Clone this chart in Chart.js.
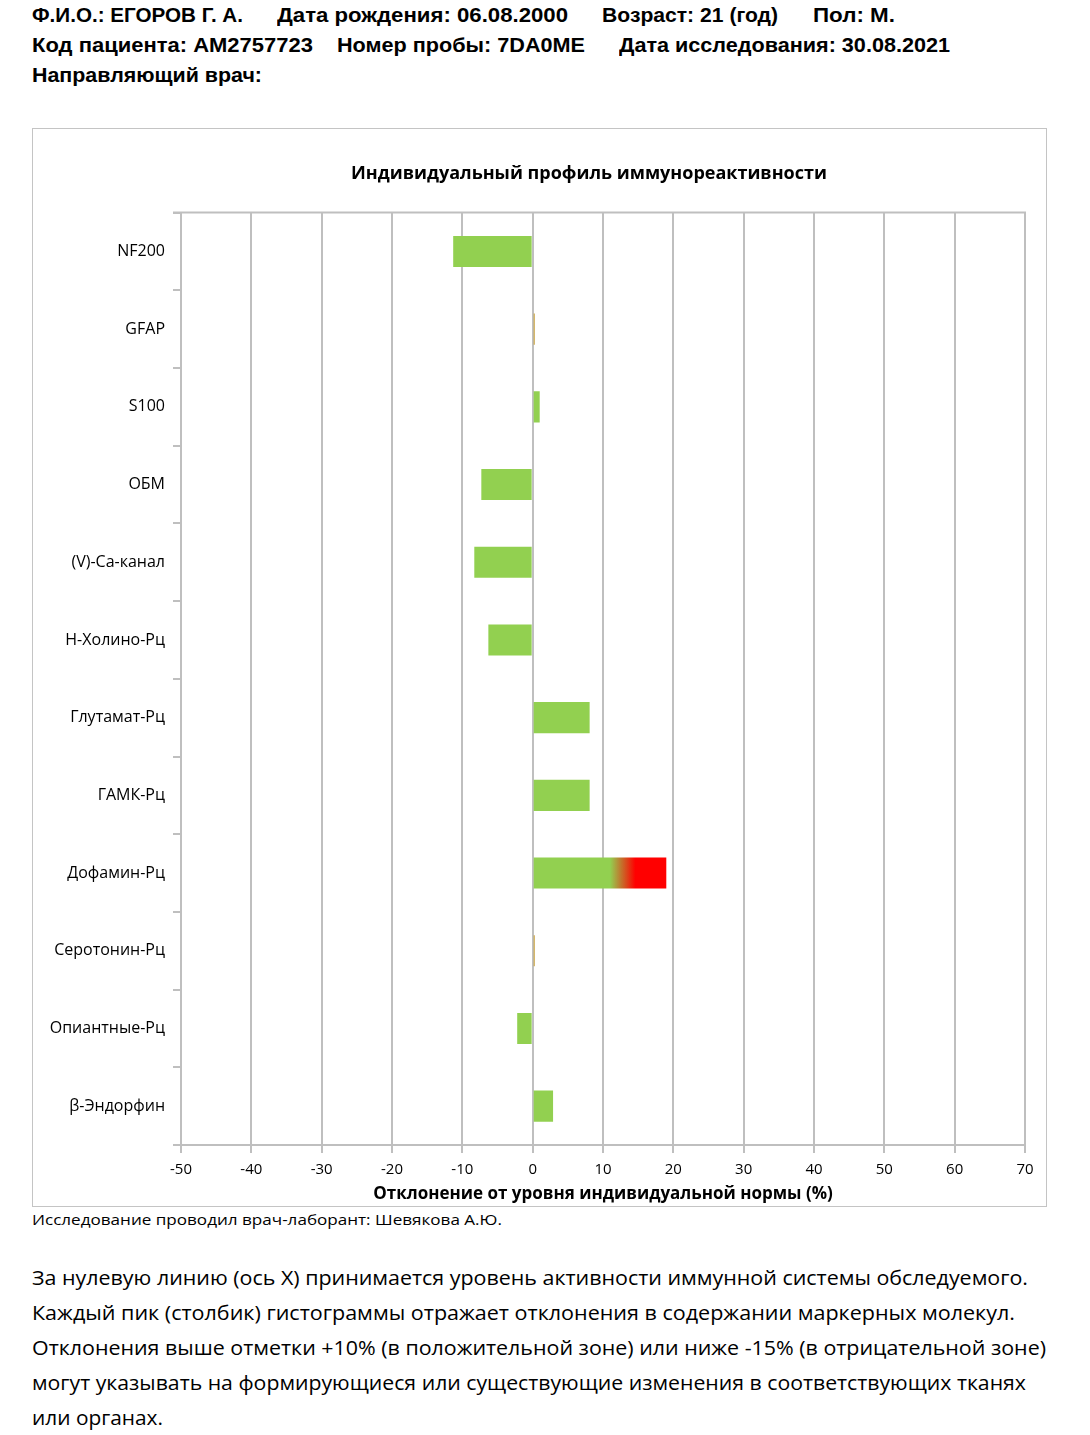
<!DOCTYPE html>
<html lang="ru">
<head>
<meta charset="utf-8">
<script src="https://cdn.jsdelivr.net/npm/chart.js@4.4.1/dist/chart.umd.min.js"></script>
<style>
  body { margin: 0; width: 1090px; height: 1435px; background: #fff; position: relative; font-family: "Open Sans", "Noto Sans", sans-serif; color: #000; }
  .t { position: absolute; white-space: nowrap; transform-origin: 0 50%; line-height: 1; }
  .head { font-family: "Liberation Sans", sans-serif; font-weight: bold; font-size: 21px; }
  .para { font-size: 20px; }
  .note { font-size: 15px; }
  #box { position: absolute; left: 32px; top: 128px; width: 1013px; height: 1077px; border: 1px solid #c4c4c4; }
</style>
</head>
<body>
<div class="t head" style="left:32px;top:4px" data-w="211">Ф.И.О.: ЕГОРОВ Г. А.</div>
<div class="t head" style="left:277px;top:4px" data-w="291">Дата рождения: 06.08.2000</div>
<div class="t head" style="left:602px;top:4px" data-w="176">Возраст: 21 (год)</div>
<div class="t head" style="left:813px;top:4px" data-w="82">Пол: М.</div>
<div class="t head" style="left:32px;top:34px" data-w="281">Код пациента: AM2757723</div>
<div class="t head" style="left:337px;top:34px" data-w="248">Номер пробы: 7DA0ME</div>
<div class="t head" style="left:619px;top:34px" data-w="331">Дата исследования: 30.08.2021</div>
<div class="t head" style="left:32px;top:64px" data-w="230">Направляющий врач:</div>

<div id="box"><canvas id="immunoChart" width="1013" height="1077"></canvas></div>

<div class="t note" style="left:32px;top:1212px" data-w="470">Исследование проводил врач-лаборант: Шевякова А.Ю.</div>

<div class="t para" style="left:32px;top:1268px" data-w="996">За нулевую линию (ось X) принимается уровень активности иммунной системы обследуемого.</div>
<div class="t para" style="left:32px;top:1303px" data-w="983">Каждый пик (столбик) гистограммы отражает отклонения в содержании маркерных молекул.</div>
<div class="t para" style="left:32px;top:1338px" data-w="1014">Отклонения выше отметки +10% (в положительной зоне) или ниже -15% (в отрицательной зоне)</div>
<div class="t para" style="left:32px;top:1373px" data-w="994">могут указывать на формирующиеся или существующие изменения в соответствующих тканях</div>
<div class="t para" style="left:32px;top:1408px" data-w="131">или органах.</div>

<script>
const markers = [
  "NF200", "GFAP", "S100", "ОБМ", "(V)-Са-канал", "Н-Холино-Рц",
  "Глутамат-Рц", "ГАМК-Рц", "Дофамин-Рц", "Серотонин-Рц", "Опиантные-Рц", "β-Эндорфин"
];
const deviations = [-11.3, 0.3, 1.0, -7.3, -8.3, -6.3, 8.1, 8.1, 19.0, 0.3, -2.2, 2.9];
const xMin = -50;
const xMax = 70;
const xStep = 10;

const GREEN = "#92d050";
const RED = "#ff0000";
const NEAR_ZERO = "#c9a23f";
const GRID = "#bfbfbf";

// stretch each text line to the width it has in the printed report
document.querySelectorAll("[data-w]").forEach((el) => {
  const target = +el.dataset.w;
  const w = el.getBoundingClientRect().width;
  if (w > 0) el.style.transform = "scaleX(" + (target / w).toFixed(4) + ")";
});

function barColor(c) {
  const v = c.raw;
  if (Math.abs(v) < 0.5) return NEAR_ZERO;
  const chart = c.chart;
  const x = chart.scales.x;
  if (!chart.chartArea || !x) return GREEN;
  // green turns to red past the +10% zone
  const g = chart.ctx.createLinearGradient(x.getPixelForValue(11), 0, x.getPixelForValue(14.6), 0);
  g.addColorStop(0, GREEN);
  g.addColorStop(1, RED);
  return g;
}

const topBorder = {
  id: "topBorder",
  afterDraw(chart) {
    const { ctx, chartArea } = chart;
    ctx.save();
    ctx.strokeStyle = GRID;
    ctx.lineWidth = 2;
    ctx.beginPath();
    ctx.moveTo(chartArea.left - 8, chartArea.top);
    ctx.lineTo(chartArea.right + 1, chartArea.top);
    ctx.stroke();
    ctx.restore();
  },
};

new Chart(document.getElementById("immunoChart"), {
  type: "bar",
  data: {
    labels: markers,
    datasets: [
      {
        label: "Отклонение",
        data: deviations,
        backgroundColor: barColor,
        categoryPercentage: 1,
        barPercentage: 0.4,
      },
    ],
  },
  options: {
    indexAxis: "y",
    responsive: false,
    animation: false,
    layout: { padding: { left: 0, right: 21, top: 0, bottom: 0 } },
    plugins: {
      legend: { display: false },
      tooltip: { enabled: false },
      title: {
        display: true,
        // trailing spaces nudge the centred title a little to the left, as in the report
        text: "Индивидуальный профиль иммунореактивности\u00a0\u00a0\u00a0\u00a0\u00a0\u00a0",
        color: "#000",
        fullSize: false,
        font: { family: "Open Sans", size: 18, weight: "bold" },
        padding: { top: 34, bottom: 28 },
      },
    },
    scales: {
      x: {
        type: "linear",
        min: xMin,
        max: xMax,
        ticks: { stepSize: xStep, color: "#000", font: { family: "Open Sans", size: 15 }, padding: 8 },
        grid: { color: GRID, lineWidth: 2, tickLength: 8 },
        border: { color: GRID, width: 2 },
        title: {
          display: true,
          text: "Отклонение от уровня индивидуальной нормы (%)",
          color: "#000",
          font: { family: "Open Sans", size: 17, weight: "bold" },
          padding: { top: 4, bottom: 2 },
        },
        afterFit(scale) {
          scale.height = 61;
        },
      },
      y: {
        grid: { offset: true, drawOnChartArea: false, color: GRID, lineWidth: 2, tickLength: 8 },
        border: { color: GRID, width: 2 },
        ticks: { color: "#000", font: { family: "Open Sans", size: 16 }, padding: 8 },
        afterFit(scale) {
          scale.width = 148;
        },
      },
    },
  },
  plugins: [topBorder],
});
</script>
</body>
</html>
